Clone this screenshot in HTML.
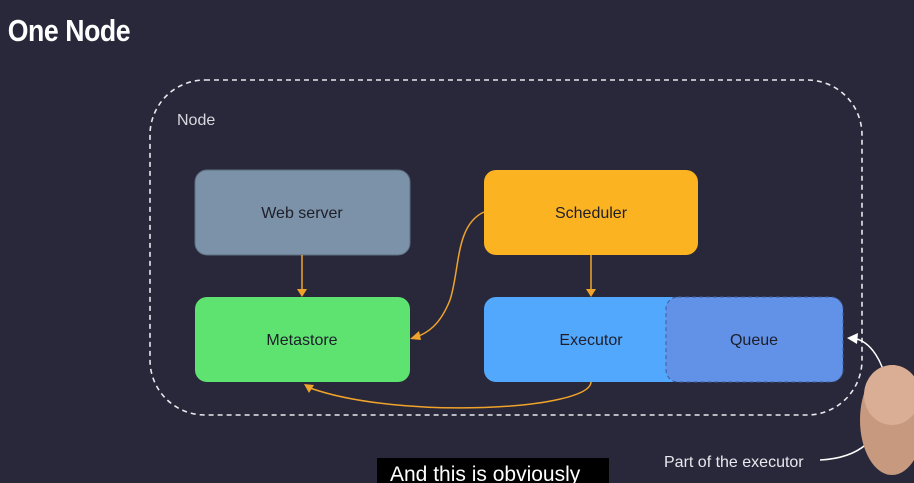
<!DOCTYPE html>
<html><head><meta charset="utf-8"><style>
html,body{margin:0;padding:0;background:#29283a;}
svg{display:block}
text{font-family:"Liberation Sans",sans-serif;}
</style></head><body>
<svg width="914" height="483" viewBox="0 0 914 483" xmlns="http://www.w3.org/2000/svg">
<rect width="914" height="483" fill="#29283a"/>
<text x="9" y="41" fill="#fff" font-size="31" font-weight="bold" transform="scale(0.86,1)" style="letter-spacing:-0.5px">One Node</text>
<rect x="150" y="80" width="712" height="335" rx="55" fill="none" stroke="#e8e8ee" stroke-width="1.6" stroke-dasharray="5,4"/>
<text x="177" y="125" fill="#d8d8e0" font-size="16">Node</text>
<rect x="195" y="170" width="215" height="85" rx="12" fill="#7b92a8" stroke="#5d6f80"/>
<text x="302" y="218" fill="#1e1e2a" font-size="16" text-anchor="middle">Web server</text>
<rect x="484" y="170" width="214" height="85" rx="12" fill="#fbb322"/>
<text x="591" y="218" fill="#1e1e2a" font-size="16" text-anchor="middle">Scheduler</text>
<rect x="195" y="297" width="215" height="85" rx="12" fill="#5ee371"/>
<text x="302" y="345" fill="#1e1e2a" font-size="16" text-anchor="middle">Metastore</text>
<rect x="484" y="297" width="200" height="85" rx="12" fill="#52a8fd"/>
<rect x="666" y="297" width="177" height="85" rx="12" fill="#6192e8" stroke="#3e5c9a" stroke-dasharray="4,3"/>
<text x="591" y="345" fill="#1e1e2a" font-size="16" text-anchor="middle">Executor</text>
<text x="754" y="345" fill="#1e1e2a" font-size="16" text-anchor="middle">Queue</text>
<g stroke="#f0a32a" stroke-width="1.5" fill="none">
<line x1="302" y1="255" x2="302" y2="290"/>
<line x1="591" y1="255" x2="591" y2="290"/>
<path d="M484,212 C455,225 460,270 450,300 C440,325 428,333 414,338"/>
<path d="M591,382 C590,410 400,420 310,388"/>
</g>
<g fill="#f0a32a">
<polygon points="297,289 307,289 302,297"/>
<polygon points="586,289 596,289 591,297"/>
<polygon points="410,339 419,331 421,340"/>
<polygon points="304,384 314,385 309,393"/>
</g>
<path d="M820,460 C860,458 880,440 890,400 C885,360 870,340 852,338" stroke="#fff" stroke-width="1.5" fill="none"/>
<polygon points="847,338 858,333 857,344" fill="#fff"/>
<text x="664" y="467" fill="#e8e8ee" font-size="16">Part of the executor</text>
<ellipse cx="892" cy="420" rx="32" ry="55" fill="#c79a80"/>
<ellipse cx="892" cy="395" rx="28" ry="30" fill="#d9ae94"/>
<rect x="377" y="458" width="232" height="25" fill="#000"/>
<text x="390" y="481" fill="#fff" font-size="21">And this is obviously</text>
</svg>
</body></html>
